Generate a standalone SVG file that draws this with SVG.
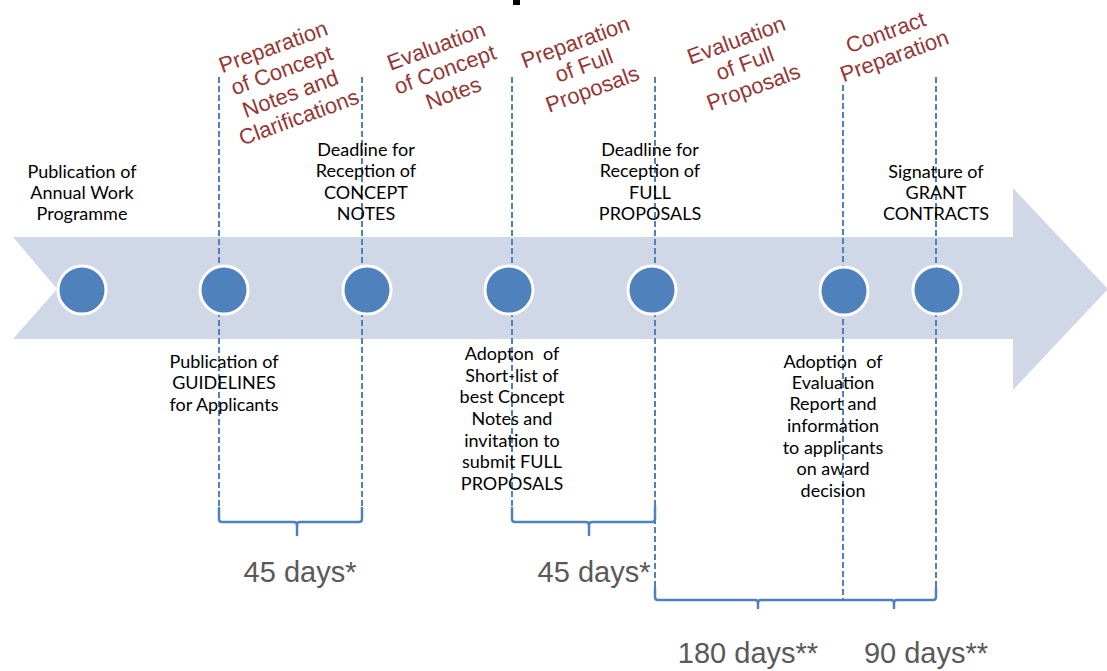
<svg xmlns="http://www.w3.org/2000/svg" width="1107" height="671" viewBox="0 0 1107 671">
<style>
.lbl{font-family:Lato,"Liberation Sans",sans-serif;font-size:18px;fill:#000;text-anchor:middle;white-space:pre}
.phase{font-family:"Liberation Sans",Arial,sans-serif;font-size:22px;fill:#953735;text-anchor:middle}
.days{font-family:"Liberation Sans",Arial,sans-serif;font-size:29px;fill:#595959;text-anchor:middle}
.dash{stroke:#4f81bd;stroke-width:2;stroke-dasharray:6 3;fill:none}
.brace{stroke:#4f81bd;stroke-width:2.5;fill:none;stroke-linecap:round;stroke-linejoin:round}
.dot{fill:#4f81bd;stroke:#fff;stroke-width:3}
</style>
<rect width="1107" height="671" fill="#fff"/>
<rect x="513" y="0" width="7" height="5" fill="#000"/>
<g id="timeline-arrow">
<path d="M13,237 H1013 V188 L1108,289 L1013,390 V339 H13 L57,289 Z" fill="#d0d8e8"/>
</g>
<g id="connectors">
<line class="dash" x1="219" y1="77" x2="219" y2="508"/>
<line class="dash" x1="362" y1="77" x2="362" y2="508"/>
<line class="dash" x1="512" y1="77" x2="512" y2="508"/>
<line class="dash" x1="655" y1="77" x2="655" y2="597"/>
<line class="dash" x1="843" y1="85" x2="843" y2="600"/>
<line class="dash" x1="936" y1="77" x2="936" y2="588"/>
<path class="brace" d="M219,508 V519 Q219,522 222,522 H294 Q297,522 297,525 V535 M297,525 Q297,522 300,522 H359 Q362,522 362,519 V508"/>
<path class="brace" d="M512,508 V519 Q512,522 515,522 H586 Q589,522 589,525 V535 M589,525 Q589,522 592,522 H652 Q655,522 655,519 V506"/>
<path class="brace" d="M655,588 V597 Q655,600 658,600 H755 Q758,600 758,603 V608 M758,603 Q758,600 761,600 H891 Q894,600 894,603 V608 M894,603 Q894,600 897,600 H933 Q936,600 936,597 V588"/>
</g>
<g id="n1"><circle class="dot" cx="82" cy="290" r="24"/>
<text class="lbl"><tspan x="82" y="178">Publication of</tspan><tspan x="82" y="199">Annual Work</tspan><tspan x="82" y="220">Programme</tspan></text></g>
<g id="n2"><circle class="dot" cx="224" cy="290" r="24"/>
<text class="lbl"><tspan x="224" y="368">Publication of</tspan><tspan x="224" y="389">GUIDELINES</tspan><tspan x="224" y="411">for Applicants</tspan></text></g>
<g id="n3"><circle class="dot" cx="367" cy="290" r="24"/>
<text class="lbl"><tspan x="366" y="156">Deadline for</tspan><tspan x="366" y="177">Reception of</tspan><tspan x="366" y="199">CONCEPT</tspan><tspan x="366" y="220">NOTES</tspan></text></g>
<g id="n4"><circle class="dot" cx="509" cy="290" r="24"/>
<text class="lbl"><tspan x="512" y="360">Adopton  of</tspan><tspan x="512" y="382">Short-list of</tspan><tspan x="512" y="403">best Concept</tspan><tspan x="512" y="425">Notes and</tspan><tspan x="512" y="447">invitation to</tspan><tspan x="512" y="468">submit FULL</tspan><tspan x="512" y="490">PROPOSALS</tspan></text></g>
<g id="n5"><circle class="dot" cx="652" cy="290" r="24"/>
<text class="lbl"><tspan x="650" y="156">Deadline for</tspan><tspan x="650" y="177">Reception of</tspan><tspan x="650" y="199">FULL</tspan><tspan x="650" y="220">PROPOSALS</tspan></text></g>
<g id="n6"><circle class="dot" cx="844" cy="291" r="24"/>
<text class="lbl"><tspan x="833" y="368">Adoption  of</tspan><tspan x="833" y="389">Evaluation</tspan><tspan x="833" y="410">Report and</tspan><tspan x="833" y="432">information</tspan><tspan x="833" y="454">to applicants</tspan><tspan x="833" y="475">on award</tspan><tspan x="833" y="497">decision</tspan></text></g>
<g id="n7"><circle class="dot" cx="937" cy="290" r="24"/>
<text class="lbl"><tspan x="936" y="178">Signature of</tspan><tspan x="936" y="199">GRANT</tspan><tspan x="936" y="220">CONTRACTS</tspan></text></g>
<g id="phase1" transform="translate(286,82) rotate(-20)"><text class="phase"><tspan x="0" y="-30">Preparation</tspan><tspan x="0" y="-5">of Concept</tspan><tspan x="0" y="20">Notes and</tspan><tspan x="0" y="45">Clarifications</tspan></text></g>
<g id="phase2" transform="translate(445,70) rotate(-20)"><text class="phase"><tspan x="0" y="-18">Evaluation</tspan><tspan x="0" y="7">of Concept</tspan><tspan x="0" y="32">Notes</tspan></text></g>
<g id="phase3" transform="translate(584,66) rotate(-20)"><text class="phase"><tspan x="0" y="-18">Preparation</tspan><tspan x="0" y="7">of Full</tspan><tspan x="0" y="32">Proposals</tspan></text></g>
<g id="phase4" transform="translate(745,64) rotate(-20)"><text class="phase"><tspan x="0" y="-18">Evaluation</tspan><tspan x="0" y="7">of Full</tspan><tspan x="0" y="32">Proposals</tspan></text></g>
<g id="phase5" transform="translate(890,44) rotate(-20)"><text class="phase"><tspan x="0" y="-5">Contract</tspan><tspan x="0" y="20">Preparation</tspan></text></g>
<g id="durations">
<text class="days" x="300" y="582">45 days*</text>
<text class="days" x="594" y="582">45 days*</text>
<text class="days" x="748" y="663">180 days**</text>
<text class="days" x="926" y="663">90 days**</text>
</g>
</svg>
